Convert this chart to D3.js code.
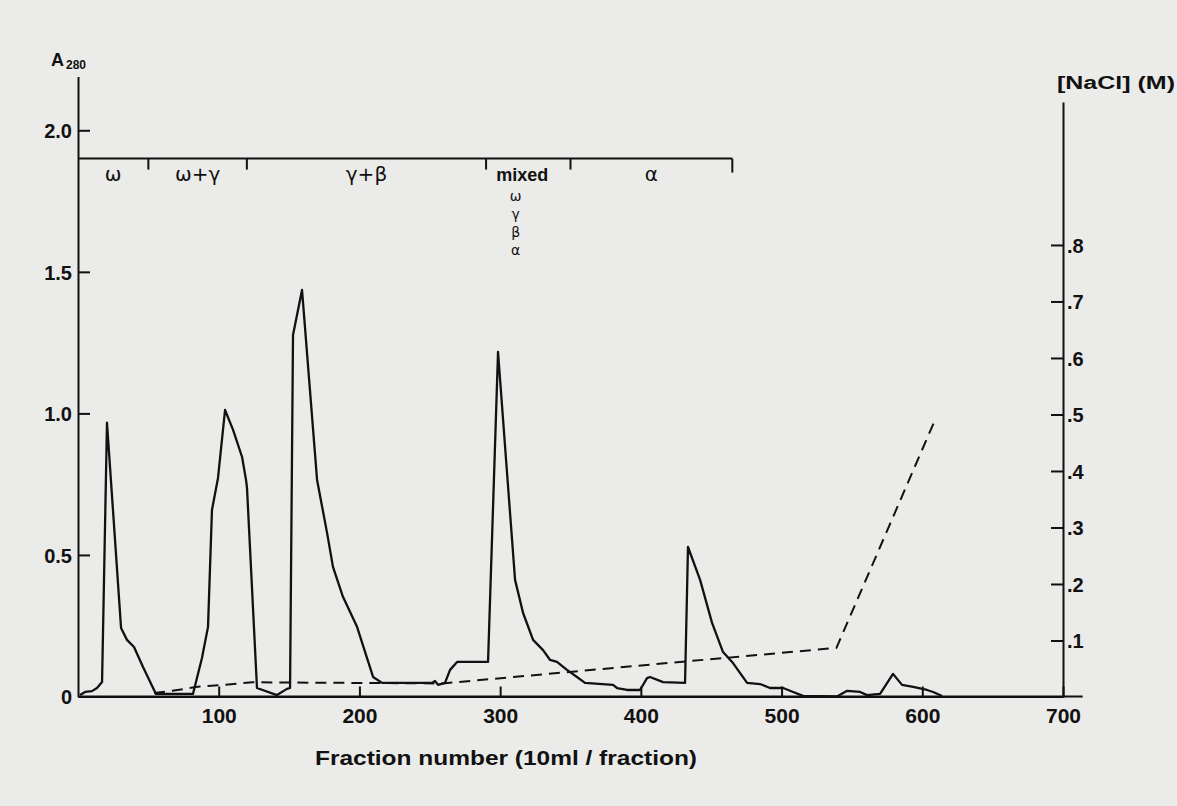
<!DOCTYPE html>
<html>
<head>
<meta charset="utf-8">
<script src="https://cdn.jsdelivr.net/npm/d3@7"></script>
<style>
	html, body { margin: 0; padding: 0; background: #ebebe9; }
	svg { display: block; }
	.tick text { font-family: "Liberation Sans", Arial, sans-serif; font-weight: bold; fill: #111; }
	.domain, .tick line { stroke: #111; stroke-width: 2; }
</style>
</head>
<body>
<svg id="chart" width="1177" height="806"></svg>
<script>

// absorbance trace (solid line)
const fractionA = [1.4, 5, 9.9, 13.5, 17.1, 20.6, 30.6, 34.8, 39.8, 46.2, 55.4,
	81.7, 88.1, 92.4, 95.2, 99.5, 104.5, 110.2, 116.6, 119.4, 120.1, 127.2, 141.4, 148.5, 150.7,
	152.8, 159.2, 169.9, 177, 181.2, 188.3, 198.3, 209.7, 216.1, 251.6, 253.7, 255.9, 260.8,
	264.4, 269.4, 291.4, 298.5, 304.9, 310.6, 316.3, 323.4, 330.5, 335.5, 340.4, 347.5, 354.6,
	360.3, 380.2, 383.1, 390.2, 399.4, 404.4, 406.5, 415.8, 431.4, 433.5, 442.1, 450.6, 458.4,
	465.5, 475.5, 484.7, 491.8, 501.1, 508.2, 515.3, 539.4, 546.6, 555.8, 560.8, 570, 579.2,
	585.6, 593.5, 603.4, 607.7, 614.1];
const absorbance = [0.005, 0.016, 0.019, 0.03, 0.051, 0.967, 0.242, 0.2, 0.175, 0.104, 0.009,
	0.009, 0.136, 0.246, 0.659, 0.772, 1.012, 0.942, 0.846, 0.765, 0.737, 0.03, 0.005, 0.027, 0.03,
	1.277, 1.436, 0.765, 0.578, 0.458, 0.352, 0.246, 0.069, 0.048, 0.048, 0.055, 0.041, 0.048,
	0.094, 0.122, 0.122, 1.217, 0.79, 0.412, 0.295, 0.2, 0.164, 0.129, 0.122, 0.094, 0.069,
	0.048, 0.041, 0.03, 0.023, 0.023, 0.065, 0.069, 0.051, 0.048, 0.528, 0.412, 0.26, 0.157,
	0.118, 0.048, 0.044, 0.03, 0.03, 0.016, 0.002, 0, 0.02, 0.016, 0.005, 0.009, 0.08,
	0.041, 0.034, 0.023, 0.016, 0.002];

// salt gradient (dashed line)
const fractionNaCl = [54, 67, 85, 101, 124, 259, 539, 609];
const nacl = [0.007, 0.011, 0.018, 0.021, 0.026, 0.024, 0.087, 0.49];

// pooled fractions bracket
const bracketBounds = [0, 50, 120, 290, 350, 465];
const bracketLabels = ["ω", "ω+γ", "γ+β", "mixed", "α"];
const mixedStack = ["ω", "γ", "β", "α"];
const bracketLevel = 1.9;

const xTicks = [100, 200, 300, 400, 500, 600, 700];
const leftTicks = [0, 0.5, 1.0, 1.5, 2.0];
const rightTicks = [0.1, 0.2, 0.3, 0.4, 0.5, 0.6, 0.7, 0.8];

const FONT = '"Liberation Sans", Arial, sans-serif';
const HAND = '"DejaVu Sans", sans-serif';

const svg = d3.select("#chart");

const x = d3.scaleLinear().domain([0, 700]).range([78, 1063]);
const yA = d3.scaleLinear().domain([0, 2.19]).range([696.5, 76.5]);
const yN = d3.scaleLinear().domain([0, 1.053]).range([697, 102]);

// axes
const xAxis = d3.axisBottom(x)
	.tickValues(xTicks)
	.tickSize(-10)
	.tickSizeOuter(0)
	.tickPadding(12)
	.tickFormat(d3.format("d"));

const xg = svg.append("g")
	.attr("transform", "translate(0," + yA(0) + ")")
	.call(xAxis);
xg.selectAll(".tick text").style("font-size", "21px");
xg.append("line")
	.attr("x1", x(0)).attr("x2", x(714))
	.attr("stroke", "#111").attr("stroke-width", 2);

const leftAxis = d3.axisLeft(yA)
	.tickValues(leftTicks)
	.tickSize(-12)
	.tickSizeOuter(0)
	.tickPadding(6)
	.tickFormat(d => d === 0 ? "0" : d3.format(".1f")(d));

const lg = svg.append("g")
	.attr("transform", "translate(" + x(0) + ",0)")
	.call(leftAxis);
lg.selectAll(".tick text").style("font-size", "20px").attr("dy", "0.36em");
lg.selectAll(".tick").filter(d => d === 0).select("line").remove();

const rightAxis = d3.axisRight(yN)
	.tickValues(rightTicks)
	.tickSize(-12)
	.tickSizeOuter(0)
	.tickPadding(4)
	.tickFormat(d => d3.format(".1f")(d).replace(/^0/, ""));

const rg = svg.append("g")
	.attr("transform", "translate(" + x(700) + ",0)")
	.call(rightAxis);
rg.selectAll(".tick text").style("font-size", "20px").attr("dy", "0.36em");

// axis titles
const a280 = svg.append("text")
	.attr("x", 51).attr("y", 66)
	.attr("font-family", FONT).attr("font-weight", "bold")
	.attr("font-size", 18).attr("fill", "#111");
a280.append("tspan").text("A");
a280.append("tspan").attr("font-size", 12).attr("dx", 2).attr("dy", 3).text("280");

svg.append("text")
	.attr("x", 1057).attr("y", 89)
	.attr("font-family", FONT).attr("font-weight", "bold")
	.attr("font-size", 18).attr("fill", "#111")
	.attr("textLength", 118).attr("lengthAdjust", "spacingAndGlyphs")
	.text("[NaCl]  (M)");

svg.append("text")
	.attr("x", 315).attr("y", 765)
	.attr("font-family", FONT).attr("font-weight", "bold")
	.attr("font-size", 21).attr("fill", "#111")
	.attr("textLength", 382).attr("lengthAdjust", "spacingAndGlyphs")
	.text("Fraction number (10ml / fraction)");

// bracket of pooled fractions
const bracket = svg.append("g");
bracket.append("line")
	.attr("x1", x(bracketBounds[0])).attr("x2", x(bracketBounds[bracketBounds.length - 1]))
	.attr("y1", yA(bracketLevel)).attr("y2", yA(bracketLevel))
	.attr("stroke", "#111").attr("stroke-width", 2);

bracket.selectAll(".btick")
	.data(bracketBounds.slice(1))
	.enter()
	.append("line")
	.attr("x1", d => x(d)).attr("x2", d => x(d))
	.attr("y1", yA(bracketLevel))
	.attr("y2", (d, i) => yA(bracketLevel) + (i === bracketBounds.length - 2 ? 14 : 11))
	.attr("stroke", "#111").attr("stroke-width", 2);

bracket.selectAll(".blabel")
	.data(bracketLabels)
	.enter()
	.append("text")
	.attr("x", (d, i) => x((bracketBounds[i] + bracketBounds[i + 1]) / 2) - (d === "mixed" ? 6 : 0))
	.attr("y", yA(bracketLevel) + 22)
	.attr("text-anchor", "middle")
	.attr("font-family", d => d === "mixed" ? FONT : HAND)
	.attr("font-weight", d => d === "mixed" ? "bold" : "normal")
	.attr("font-size", d => d === "mixed" ? 18 : 20)
	.attr("fill", "#111")
	.text(d => d);

bracket.selectAll(".stack")
	.data(mixedStack)
	.enter()
	.append("text")
	.attr("x", x(311))
	.attr("y", (d, i) => yA(bracketLevel) + 42 + i * 18)
	.attr("text-anchor", "middle")
	.attr("font-family", HAND)
	.attr("font-size", 14)
	.attr("fill", "#111")
	.text(d => d);

// curves
const absLine = d3.line()
	.x(d => x(d[0]))
	.y(d => yA(d[1]));

const naclLine = d3.line()
	.x(d => x(d[0]))
	.y(d => yN(d[1]));

svg.append("path")
	.datum(d3.zip(fractionNaCl, nacl))
	.attr("d", naclLine)
	.attr("fill", "none")
	.attr("stroke", "#111")
	.attr("stroke-width", 2)
	.attr("stroke-dasharray", "11,7");

svg.append("path")
	.datum(d3.zip(fractionA, absorbance))
	.attr("d", absLine)
	.attr("fill", "none")
	.attr("stroke", "#111")
	.attr("stroke-width", 2.3)
	.attr("stroke-linejoin", "round");

</script>
</body>
</html>
